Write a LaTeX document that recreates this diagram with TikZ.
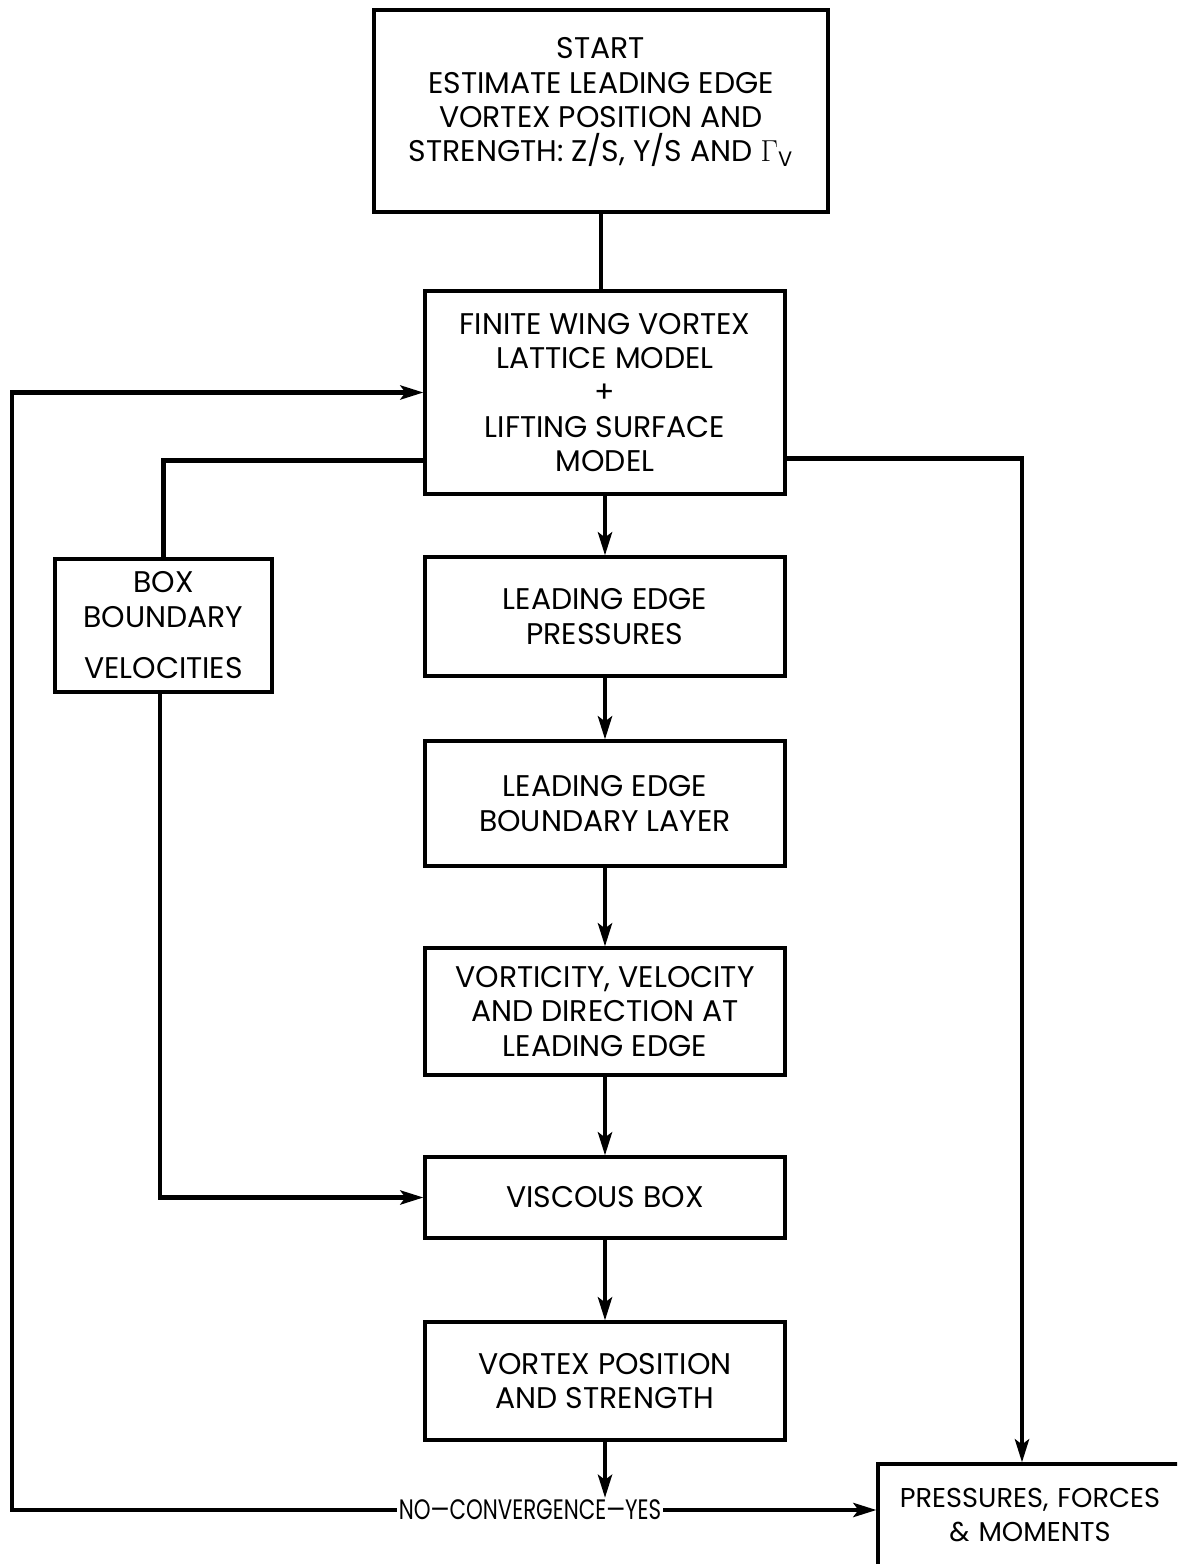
\documentclass[tikz,border=0pt]{standalone}
\usepackage{fontspec}
\setmainfont{Poppins}
\usetikzlibrary{arrows.meta,positioning}

\begin{document}
\begin{tikzpicture}[x=0.02cm,y=-0.02cm,
		box/.style={draw,line width=1.8pt,align=center,inner sep=2pt,font=\fontsize{17}{19.6}\selectfont},
		flow/.style={line width=2.8pt},
		arr/.style={flow,-{Stealth[length=4.6mm,width=2.8mm,inset=1mm]}}]
			%%%%% START %%%%%
			\clip (0,0) rectangle (1177,1564);
			
			\node[box,minimum width=9.08cm,minimum height=4.04cm] (start) at (601,111)
				{START\\ESTIMATE LEADING EDGE\\VORTEX POSITION AND\\STRENGTH: Z/S, Y/S AND $\Gamma_{\mathrm{V}}$\\[-0.24cm]};
			
			\node[box,minimum width=7.2cm,minimum height=4.06cm] (wing) at (605,392.5)
				{FINITE WING VORTEX\\LATTICE MODEL\\+\\LIFTING SURFACE\\MODEL};
			\node[box,minimum width=7.2cm,minimum height=2.38cm] (lep) at (605,616.5)
				{LEADING EDGE\\PRESSURES};
			\node[box,minimum width=7.2cm,minimum height=2.5cm] (lebl) at (605,803.5)
				{LEADING EDGE\\BOUNDARY LAYER};
			\node[box,minimum width=7.2cm,minimum height=2.54cm] (vort) at (605,1011.5)
				{VORTICITY, VELOCITY\\AND DIRECTION AT\\LEADING EDGE};
			\node[box,minimum width=7.2cm,minimum height=1.62cm] (visc) at (605,1197.5)
				{VISCOUS BOX};
			\node[box,minimum width=7.2cm,minimum height=2.36cm] (vpos) at (605,1381)
				{VORTEX POSITION\\AND STRENGTH};
			
			\node[box,minimum width=4.34cm,minimum height=2.66cm] (bbv) at (163.5,625.5)
				{BOX\\BOUNDARY\\[0.34cm]VELOCITIES};
			\node[box,minimum width=6.08cm,minimum height=2.04cm,text width=5.8cm,
				font=\fontsize{15.5}{19.6}\selectfont] (pres) at (1030,1515)
				{PRESSURES, FORCES\\\& MOMENTS};
			
			\node[inner sep=1pt,font=\fontsize{16}{19.6}\selectfont] (conv) at (530,1510)
				{\scalebox{0.76}[1]{NO---CONVERGENCE---YES}};
			\coordinate (lft) at (12,0);
			
			% main chain
			\draw[flow] (start.south) -- (start.south |- wing.north);
			\draw[arr] (wing.south) -- (lep.north);
			\draw[arr] (lep.south) -- (lebl.north);
			\draw[arr] (lebl.south) -- (vort.north);
			\draw[arr] (vort.south) -- (visc.north);
			\draw[arr] (visc.south) -- (vpos.north);
			\draw[arr] (vpos.south) -- (vpos.south |- conv.north);
			
			% loops
			\draw[arr] (conv.west) -- (conv.west -| lft) |- (wing.west);
			\draw[flow] ([yshift=0.7cm]wing.south west) -| (bbv.north);
			\draw[arr] ([xshift=-0.07cm]bbv.south) |- (visc.west);
			\draw[arr] ([yshift=0.74cm]wing.south east) -| ([xshift=-0.16cm]pres.north);
			\draw[arr] (conv.east) -- (pres.west |- conv.east);
			
			%%%%% END %%%%%
		\end{tikzpicture}
\end{document}
